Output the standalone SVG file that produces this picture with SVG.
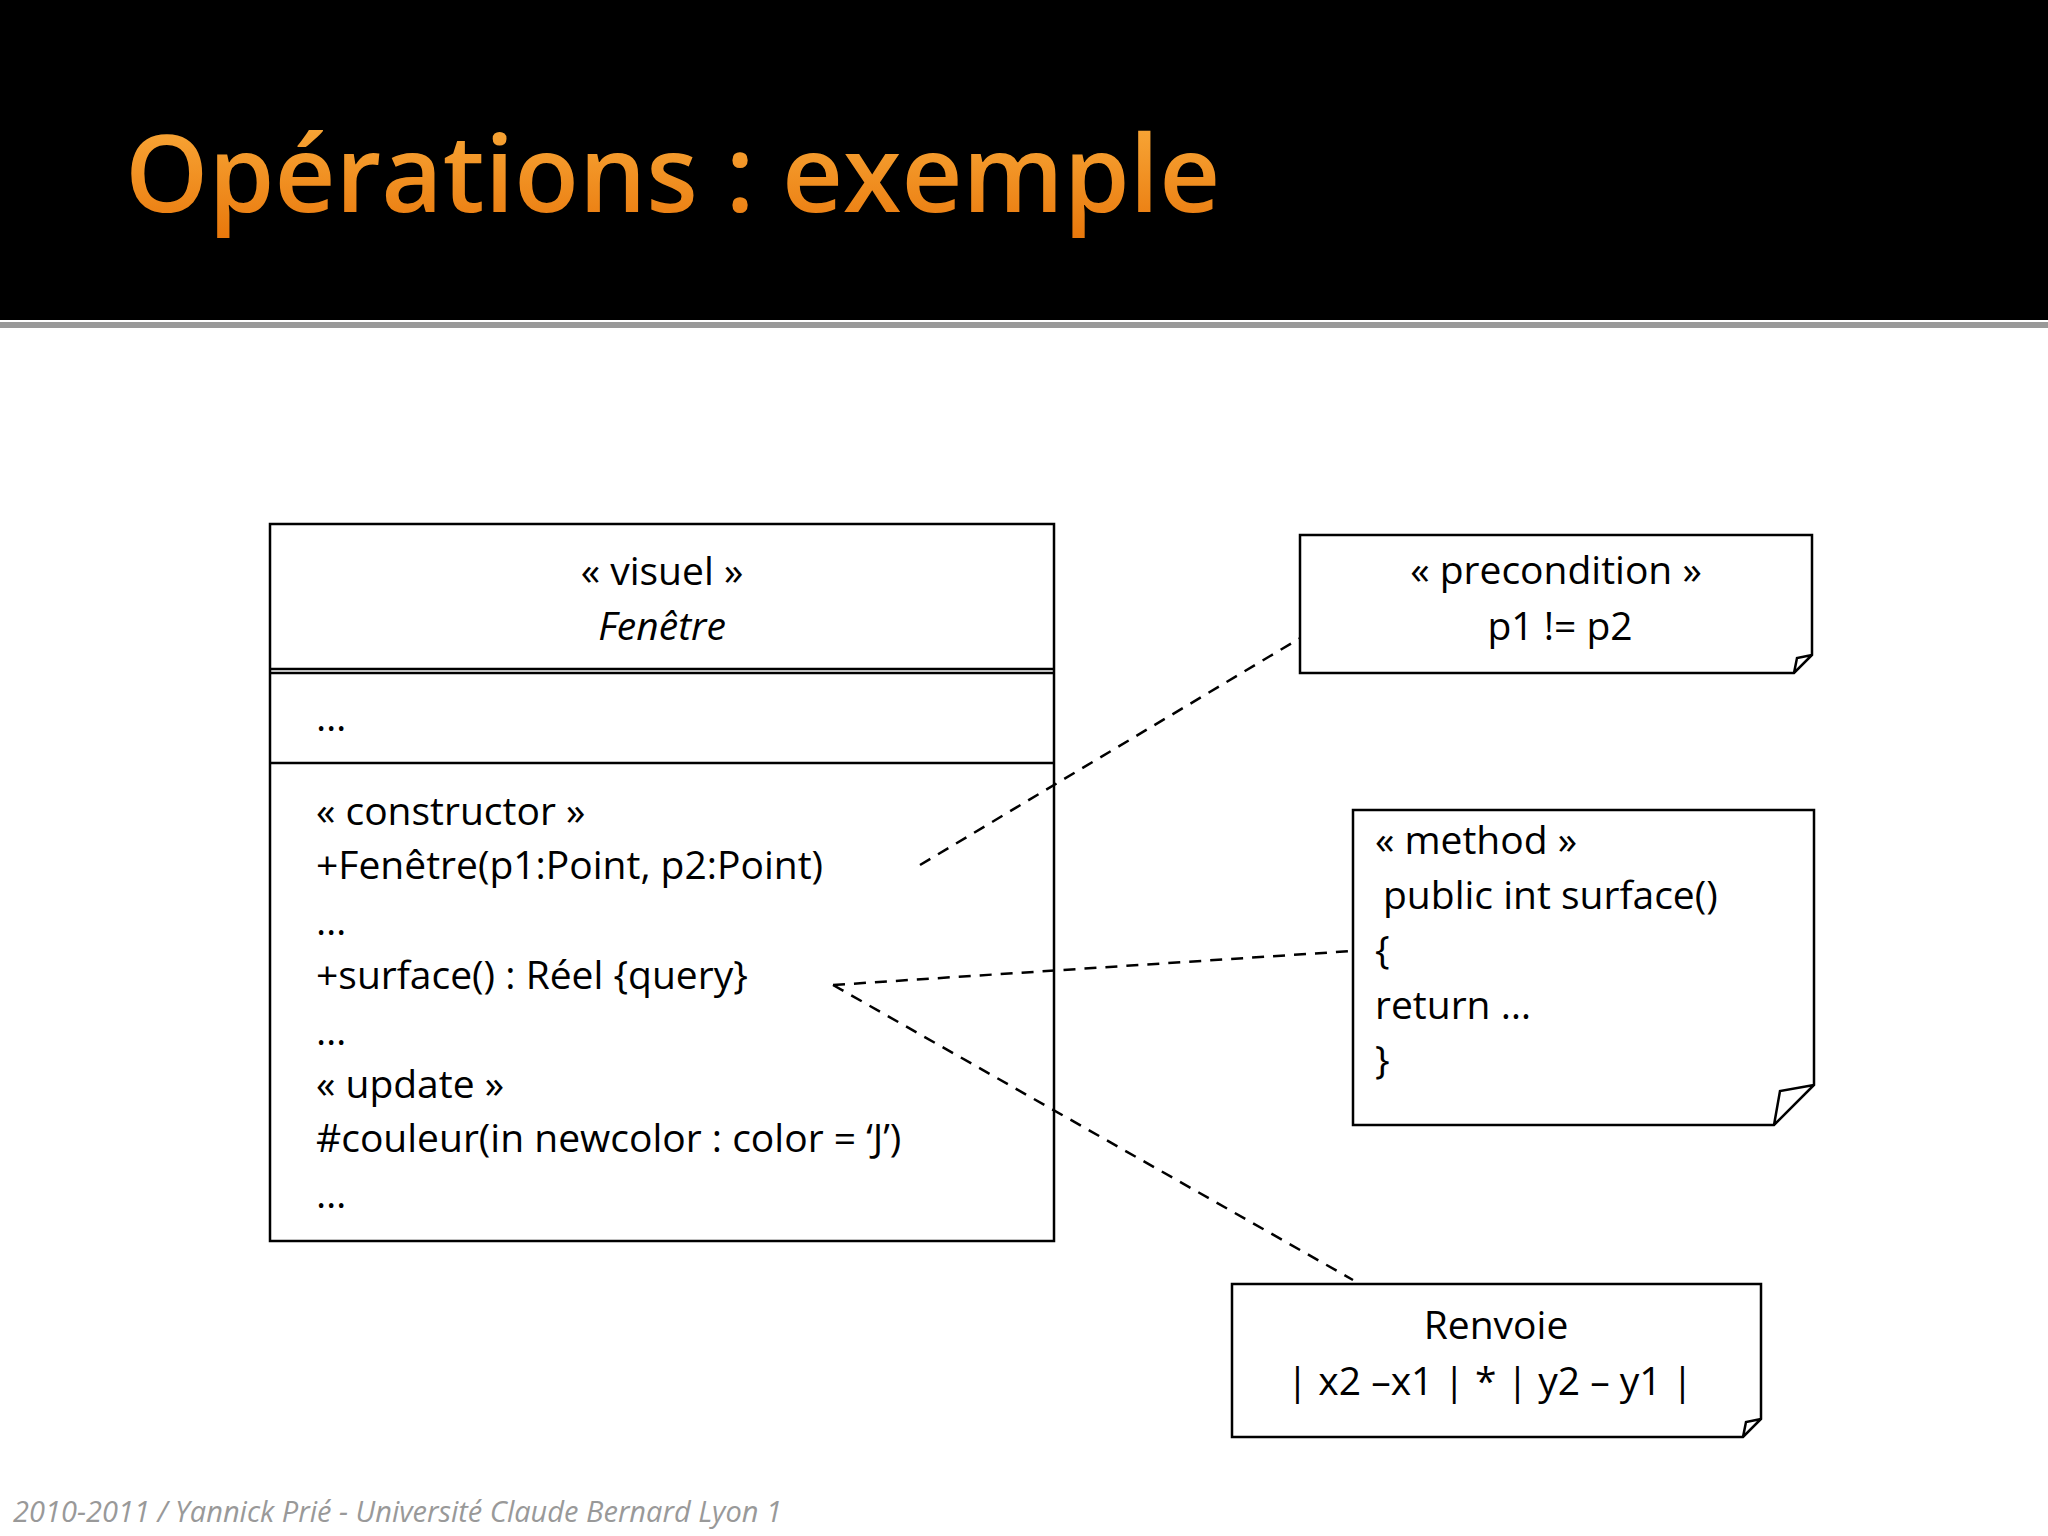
<svg xmlns="http://www.w3.org/2000/svg" width="2048" height="1536" viewBox="0 0 2048 1536">
<defs>
<linearGradient id="og" x1="0" y1="0" x2="0" y2="1"><stop offset="0" stop-color="#fbb040"/><stop offset="1" stop-color="#e8760a"/></linearGradient>
<style>
.t{font-family:"Open Sans","Liberation Sans",sans-serif;font-size:39px;fill:#000}
.c{text-anchor:middle}
.b{fill:#fff;stroke:#000;stroke-width:2.5}
.d{stroke:#000;stroke-width:2.5;stroke-dasharray:12 9;fill:none}
</style>
</defs>
<rect width="2048" height="1536" fill="#fff"/>
<rect width="2048" height="320" fill="#000"/>
<rect y="322" width="2048" height="6" fill="#999"/>
<text x="125" y="212" font-family="Open Sans,Liberation Sans,sans-serif" font-size="106" font-weight="600" fill="url(#og)">Opérations : exemple</text>
<g id="class">
<rect class="b" x="270" y="524" width="784" height="717"/>
<line x1="270" y1="669" x2="1054" y2="669" stroke="#000" stroke-width="2.5"/>
<line x1="270" y1="673" x2="1054" y2="673" stroke="#000" stroke-width="2.5"/>
<line x1="270" y1="763" x2="1054" y2="763" stroke="#000" stroke-width="2.5"/>
<text class="t c" x="662" y="585">« visuel »</text>
<text class="t c" x="662" y="640" font-style="italic">Fenêtre</text>
<text class="t" x="316" y="731">…</text>
<text class="t" x="316" y="825">« constructor »</text>
<text class="t" x="316" y="879">+Fenêtre(p1:Point, p2:Point)</text>
<text class="t" x="316" y="935">…</text>
<text class="t" x="316" y="989">+surface() : Réel  {query}</text>
<text class="t" x="316" y="1045">…</text>
<text class="t" x="316" y="1098">« update »</text>
<text class="t" x="316" y="1152">#couleur(in newcolor : color = ‘J’)</text>
<text class="t" x="316" y="1208">…</text>
</g>
<g id="connectors">
<line class="d" x1="920" y1="865" x2="1302" y2="637"/>
<line class="d" x1="833" y1="985" x2="1353" y2="951"/>
<line class="d" x1="833" y1="985" x2="1353" y2="1280"/>
</g>
<g id="precondition">
<path class="b" d="M1300,535 H1812 V655 L1794,673 H1300 Z M1794,673 L1797,658 L1812,655"/>
<text class="t c" x="1556" y="584">« precondition »</text>
<text class="t c" x="1560" y="640">p1 != p2</text>
</g>
<g id="method">
<path class="b" d="M1353,810 H1814 V1085 L1774,1125 H1353 Z M1774,1125 L1780,1091 L1814,1085"/>
<text class="t" x="1375" y="854">« method »</text>
<text class="t" x="1383" y="909">public int surface()</text>
<text class="t" x="1375" y="964">{</text>
<text class="t" x="1375" y="1019">return …</text>
<text class="t" x="1375" y="1074">}</text>
</g>
<g id="renvoie">
<path class="b" d="M1232,1284 H1761 V1419 L1743,1437 H1232 Z M1743,1437 L1746,1422 L1761,1419"/>
<text class="t c" x="1496" y="1339">Renvoie</text>
<text class="t c" x="1490" y="1395">| x2 –x1 | * | y2 – y1 |</text>
</g>
<text x="13" y="1522" font-family="Open Sans,Liberation Sans,sans-serif" font-size="29" font-style="italic" fill="#999">2010-2011 / Yannick Prié - Université Claude Bernard Lyon 1</text>
</svg>
